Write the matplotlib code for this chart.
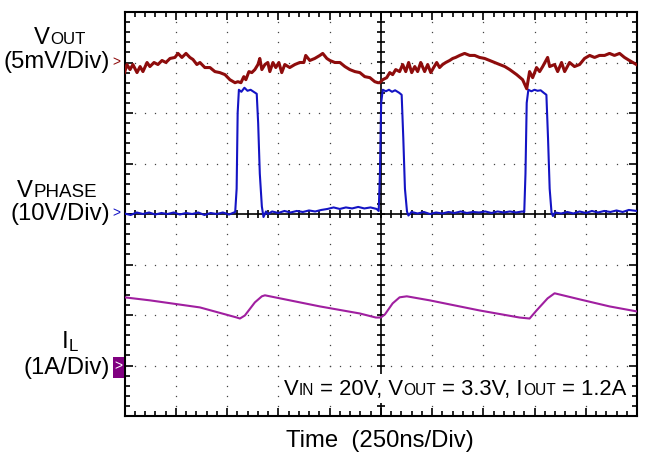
import numpy as np
import matplotlib
matplotlib.use("Agg")
import matplotlib.pyplot as plt
from matplotlib.patches import Rectangle

FONT = "Liberation Sans"
W, H = 650, 455

# time base: 250 ns/div, 10 divisions
t_div = 250
n_xdiv = 10
n_ydiv = 8

# VOUT ripple (mV, AC relative to its marker), 5 mV/div
vout_t = [0, 12, 27, 41, 61, 76, 90, 110, 124, 144, 163, 183, 202, 222, 246, 261, 280, 300,
          319, 334, 353, 368, 392, 417, 441, 465, 490, 514, 539, 553, 568, 582, 592, 607, 621,
          636, 651, 660, 670, 685, 699, 709, 724, 738, 753, 767, 782, 806, 831, 855, 875, 884,
          904, 928, 953, 967, 987, 1002, 1026, 1051, 1075, 1099, 1124, 1148, 1172, 1197, 1221,
          1236, 1245, 1260, 1279, 1294, 1308, 1323, 1342, 1357, 1372, 1386, 1401, 1416, 1430,
          1445, 1464, 1479, 1494, 1508, 1523, 1537, 1552, 1567, 1586, 1601, 1615, 1635, 1659,
          1684, 1708, 1732, 1757, 1781, 1806, 1830, 1855, 1879, 1913, 1942, 1962, 1976, 1991,
          2010, 2025, 2040, 2064, 2074, 2098, 2113, 2132, 2147, 2171, 2195, 2220, 2244, 2269,
          2293, 2317, 2342, 2366, 2390, 2415, 2439, 2463, 2497]
vout_mv = [-1.0, -0.2, -0.7, -0.2, -1.0, -0.4, -0.9, 0.0, -0.4, 0.0, -0.2, 0.2, 0.0, 0.4, 0.5,
           0.9, 0.5, 0.9, 0.5, 0.3, -0.2, 0.0, -0.5, -0.5, -0.9, -1.0, -1.2, -1.7, -2.0, -1.9,
           -2.0, -1.4, -1.7, -0.9, -1.0, -0.7, -0.2, 0.4, -0.7, -0.2, 0.0, -0.9, 0.0, -0.5, 0.0,
           -1.0, -0.2, -0.5, -0.2, 0.0, 0.0, 0.7, 0.2, 0.4, 0.7, 0.9, 0.4, 0.2, 0.0, 0.0, -0.4,
           -0.7, -0.9, -1.0, -1.4, -1.5, -1.9, -2.0, -2.0, -1.7, -1.5, -1.0, -1.2, -0.7, -0.9,
           -0.2, -0.9, 0.0, -1.0, -0.4, -0.9, 0.0, -0.9, -0.2, -1.0, -0.5, 0.0, -0.5, -0.2, 0.0,
           0.2, 0.4, 0.5, 0.7, 0.9, 0.7, 0.7, 0.5, 0.4, 0.2, 0.0, -0.2, -0.4, -0.7, -1.2, -1.7,
           -2.6, -0.9, -1.5, -0.5, -0.9, -0.4, 0.5, -0.4, -0.2, -0.9, 0.0, -0.9, 0.0, -0.4, -0.2,
           0.4, 0.7, 0.5, 0.7, 0.7, 0.9, 0.7, 0.9, 0.5, 0.2, -0.2]

# VPHASE (V), 10 V/div
phase_t = [0, 30, 60, 90, 120, 150, 180, 210, 240, 270, 300, 330, 360, 390, 420, 450, 480, 510,
           540, 547, 552, 558, 570, 585, 600, 615, 630, 645, 652, 660, 670, 678, 690, 700,
           720, 750, 780, 810, 840, 870, 900, 930, 960, 990, 1020, 1050, 1080, 1110, 1140, 1170,
           1200, 1230, 1240, 1246, 1252, 1260, 1275, 1290, 1305, 1320, 1340, 1352, 1360, 1368,
           1378, 1385, 1400, 1430, 1460, 1490, 1520, 1550, 1580, 1610, 1640, 1670, 1700, 1730,
           1760, 1790, 1820, 1850, 1880, 1910, 1940, 1950, 1956, 1962, 1970, 1985, 2000, 2015,
           2030, 2045, 2058, 2066, 2074, 2083, 2090, 2100, 2130, 2160, 2190, 2220, 2250, 2280,
           2310, 2340, 2370, 2400, 2430, 2460, 2500]
phase_v = [0.1, -0.2, 0.3, 0.0, 0.3, -0.1, 0.2, 0.0, 0.3, -0.1, 0.2, 0.0, 0.3, -0.2, 0.2, 0.0,
           0.3, -0.1, 0.4, 5, 20, 24.6, 24.2, 25.0, 24.4, 24.6, 24.2, 23.8, 18, 8, 1.5, -0.6,
           0.5, 0.0, 0.5, 0.2, 0.6, 0.3, 0.6, 0.4, 0.7, 0.5, 0.8, 1.0, 1.3, 1.0, 1.3, 1.1, 1.4,
           1.1, 1.3, 1.0, 0.6, 8, 22, 24.6, 24.3, 24.6, 24.2, 24.5, 24.0, 23.6, 15, 5, 0.5, -0.3,
           0.4, 0.1, 0.4, 0.0, 0.3, 0.1, 0.4, 0.2, 0.5, 0.2, 0.4, 0.3, 0.5, 0.2, 0.5, 0.3, 0.5,
           0.3, 0.5, 0.4, 8, 22, 24.6, 24.3, 24.6, 24.4, 24.5, 24.0, 23.6, 15, 5, 0.3, -0.4, 0.3,
           0.1, 0.4, 0.1, 0.5, 0.2, 0.6, 0.3, 0.6, 0.4, 0.7, 0.4, 0.8, 0.6]

# inductor current (A), 1 A/div
il_t = [0, 124, 368, 548, 563, 587, 636, 670, 685, 758, 953, 1148, 1226, 1250, 1270, 1308,
        1342, 1377, 1489, 1732, 1927, 1976, 2010, 2064, 2098, 2220, 2366, 2500]
il_a = [1.35, 1.29, 1.15, 0.95, 0.93, 0.99, 1.25, 1.37, 1.39, 1.33, 1.17, 1.03, 0.95, 0.95,
        1.01, 1.23, 1.35, 1.37, 1.29, 1.09, 0.95, 0.93, 1.09, 1.33, 1.43, 1.31, 1.17, 1.07]

# channel reference positions (div) and scales
vout_ref, vout_scale = 3, 5.0
phase_ref, phase_scale = 0, 10.0
il_ref, il_scale = -3, 1.0

fig = plt.figure(figsize=(W / 100, H / 100), dpi=100)
fig.patch.set_facecolor("white")
ax = fig.add_axes([124.5 / W, 1 - 416 / H, (637 - 124.5) / W, (416 - 12) / H])
ax.set_xlim(0, t_div * n_xdiv)
ax.set_ylim(-n_ydiv / 2, n_ydiv / 2)

# dotted graticule
xs_minor = np.arange(0, t_div * n_xdiv + 1, t_div / 5)
ys_minor = np.arange(-4, 4.01, 0.2)
for k in range(1, n_xdiv):
    if k == n_xdiv // 2:
        continue
    ax.plot(np.full(len(ys_minor), k * t_div), ys_minor, ls="none", marker="s", ms=0.9,
            mew=0, color="#444444", zorder=1)
for k in range(-3, 4):
    if k == 0:
        continue
    ax.plot(xs_minor, np.full(len(xs_minor), k), ls="none", marker="s", ms=0.9, mew=0,
            color="#444444", zorder=1)

# center cross with ticks
ax.axvline(t_div * n_xdiv / 2, color="black", lw=1.2, zorder=2)
ax.axhline(0, color="black", lw=1.2, zorder=2)
ax.plot(np.full(len(ys_minor), t_div * n_xdiv / 2), ys_minor, ls="none", marker="_", ms=6,
        mew=1.2, color="black", zorder=2)
ax.plot(xs_minor, np.zeros(len(xs_minor)), ls="none", marker="|", ms=6, mew=1.2,
        color="black", zorder=2)

# traces
ax.plot(il_t, il_ref + np.array(il_a) / il_scale, color="#a01fa0", lw=1.5, zorder=3)
ax.plot(phase_t, phase_ref + np.array(phase_v) / phase_scale, color="#1414c4", lw=1.5, zorder=4)
ax.plot(vout_t, vout_ref + np.array(vout_mv) / vout_scale, color="#8e0c0c", lw=2.2, zorder=5)

ax.set_xticks(np.arange(0, t_div * n_xdiv + 1, t_div))
ax.set_xticks(xs_minor, minor=True)
ax.set_yticks(np.arange(-4, 5, 1))
ax.set_yticks(ys_minor, minor=True)
ax.tick_params(which="both", direction="in", top=True, right=True, labelbottom=False,
               labelleft=False, color="black", width=1.2)
ax.tick_params(which="major", length=6)
ax.tick_params(which="minor", length=3.5)
for sp in ax.spines.values():
    sp.set_linewidth(1.5)

# white backing under the conditions label
ax.add_patch(Rectangle((0.305, 0.032), 0.67, 0.072, transform=ax.transAxes,
                       facecolor="white", edgecolor="none", zorder=6))

renderer = fig.canvas.get_renderer()


def measure(s, size):
    t = fig.text(0, 0, "|" + s + "|", fontsize=size, family=FONT)
    w1 = t.get_window_extent(renderer).width
    t.set_text("||")
    w2 = t.get_window_extent(renderer).width
    t.remove()
    return w1 - w2


def rich(x, y, parts, ha="left", color="black"):
    # parts: (text, size, baseline shift in px)
    total = sum(measure(s, sz) for s, sz, _ in parts)
    if ha == "center":
        x -= total / 2
    elif ha == "right":
        x -= total
    for s, sz, dy in parts:
        lead = len(s) - len(s.lstrip())
        xd = x + (measure(s[:lead], sz) if lead else 0)
        fig.text(xd / W, 1 - (y + dy) / H, s.strip(), fontsize=sz, family=FONT,
                 va="baseline", ha="left", color=color, zorder=10)
        x += measure(s, sz)


BIG, SMALL = 17.2, 12.2
rich(60, 44, [("V", BIG, 0), ("OUT", SMALL, 0)], ha="center")
rich(110, 68, [("(5mV/Div)", BIG, 0)], ha="right")
rich(57, 197, [("V", BIG, 0), ("PHASE", 13.5, 0)], ha="center")
rich(110, 220, [("(10V/Div)", BIG, 0)], ha="right")
rich(70, 348, [("I", BIG, 0), ("L", SMALL, 3)], ha="center")
rich(110, 374, [("(1A/Div)", BIG, 0)], ha="right")
rich(380, 447, [("Time  (250ns/Div)", BIG, 0)], ha="center")
rich(626, 395, [("V", 15.8, 0), ("IN", 11.2, 0), (" = 20V, V", 15.8, 0), ("OUT", 11.2, 0),
                (" = 3.3V, I", 15.8, 0), ("OUT", 11.2, 0), (" = 1.2A", 15.8, 0)], ha="right")

# channel markers
fig.text(116 / W, 1 - 62 / H, ">", fontsize=10, family=FONT, color="#8e0c0c",
         ha="center", va="center")
fig.text(116 / W, 1 - 213 / H, ">", fontsize=10, family=FONT, color="#1414c4",
         ha="center", va="center")
fig.patches.append(Rectangle((113 / W, 1 - 378 / H), 11 / W, 21 / H, transform=fig.transFigure,
                             facecolor="#800080", edgecolor="none", figure=fig))
fig.text(118.5 / W, 1 - 366 / H, ">", fontsize=10, family=FONT, color="white",
         ha="center", va="center")

fig.savefig("out.png", dpi=100)
